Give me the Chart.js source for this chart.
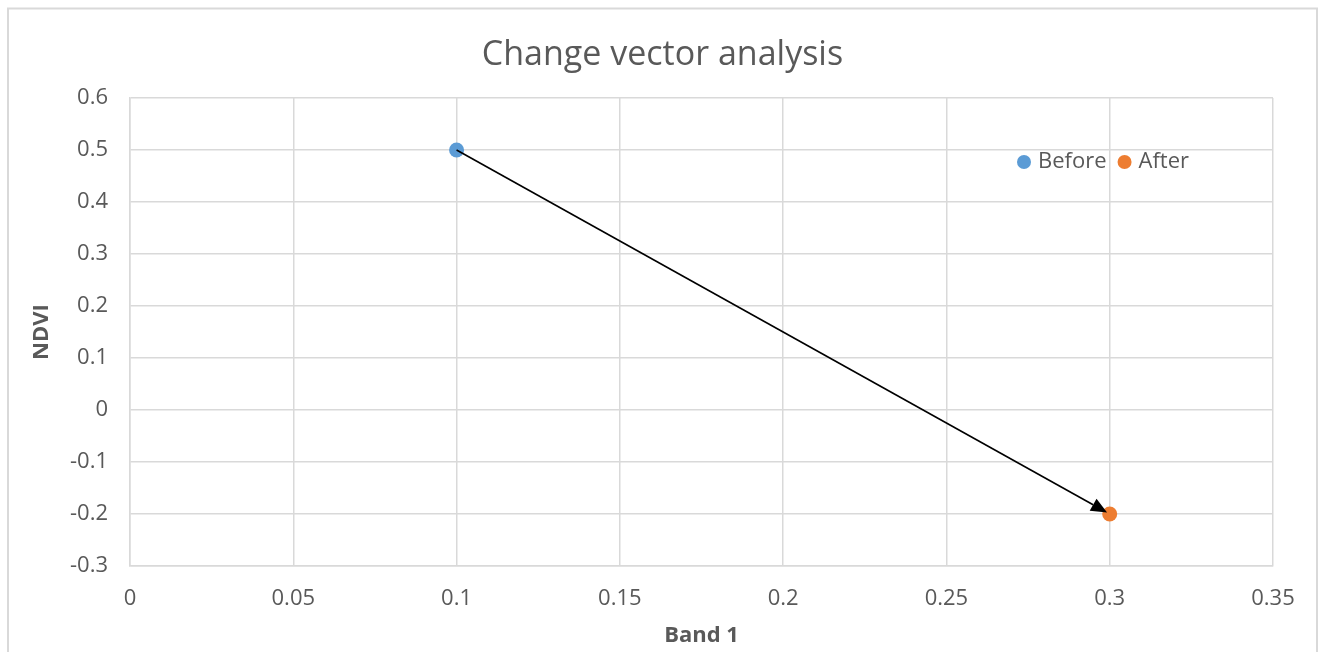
<!DOCTYPE html>
<html>
<head>
<meta charset="utf-8">
<title>Change vector analysis</title>
<script src="https://cdn.jsdelivr.net/npm/chart.js@4.4.1/dist/chart.umd.min.js"></script>
<style>
    html, body { margin: 0; padding: 0; background: #ffffff; }
    #wrap { position: relative; width: 1318px; height: 652px; }
</style>
</head>
<body>
<div id="wrap"><canvas id="cvaChart" width="1318" height="652"></canvas></div>
<script>
// Данные
const seriesNames = ['Before', 'After'];
const seriesColors = ['#5b9bd5', '#ed7d31'];
const band1Values = [0.1, 0.3];
const ndviValues = [0.5, -0.2];
const xTicks = [0, 0.05, 0.1, 0.15, 0.2, 0.25, 0.3, 0.35];
const yTicks = [-0.3, -0.2, -0.1, 0, 0.1, 0.2, 0.3, 0.4, 0.5, 0.6];

const FONT = "'Open Sans', 'Noto Sans', sans-serif";
const TEXT = '#595959';
const GRID = '#d9d9d9';

const fmt = v => String(parseFloat(Number(v).toFixed(2)));

// Рамка вокруг всей диаграммы, заголовок центрируется по рамке
const framePlugin = {
    id: 'frame',
    afterLayout(chart) {
        const t = chart.titleBlock;
        if (t) {
            t.left = 8;
            t.right = 1317;
            t.width = 1309;
        }
    },
    beforeDraw(chart) {
        const ctx = chart.ctx;
        ctx.save();
        ctx.strokeStyle = GRID;
        ctx.lineWidth = 2;
        ctx.strokeRect(8, 8.5, 1309, 660);
        ctx.restore();
    }
};

// Стрелка от "Before" к "After"
const arrowPlugin = {
    id: 'arrow',
    afterDatasetsDraw(chart) {
        const xs = chart.scales.x, ys = chart.scales.y;
        const x0 = xs.getPixelForValue(band1Values[0]), y0 = ys.getPixelForValue(ndviValues[0]);
        const x1 = xs.getPixelForValue(band1Values[1]), y1 = ys.getPixelForValue(ndviValues[1]);
        const ang = Math.atan2(y1 - y0, x1 - x0);
        const tipX = x1 - Math.cos(ang) * 3, tipY = y1 - Math.sin(ang) * 3;
        const len = 16, half = 7;
        const bx = tipX - Math.cos(ang) * len, by = tipY - Math.sin(ang) * len;
        const ctx = chart.ctx;
        ctx.save();
        ctx.strokeStyle = '#000000';
        ctx.lineWidth = 1.6;
        ctx.beginPath();
        ctx.moveTo(x0, y0);
        ctx.lineTo(bx, by);
        ctx.stroke();
        ctx.fillStyle = '#000000';
        ctx.beginPath();
        ctx.moveTo(tipX, tipY);
        ctx.lineTo(bx + Math.sin(ang) * half, by - Math.cos(ang) * half);
        ctx.lineTo(bx - Math.sin(ang) * half, by + Math.cos(ang) * half);
        ctx.closePath();
        ctx.fill();
        ctx.restore();
    }
};

// Легенда внутри области построения
const legendPlugin = {
    id: 'innerLegend',
    afterDraw(chart) {
        const ctx = chart.ctx;
        ctx.save();
        ctx.font = '22px ' + FONT;
        ctx.textBaseline = 'middle';
        let x = 1017;
        const y = 162;
        chart.data.datasets.forEach(ds => {
            ctx.fillStyle = ds.backgroundColor;
            ctx.beginPath();
            ctx.arc(x + 7, y, 7, 0, Math.PI * 2);
            ctx.fill();
            ctx.fillStyle = TEXT;
            ctx.fillText(ds.label, x + 21, y);
            x += 21 + ctx.measureText(ds.label).width + 11;
        });
        ctx.restore();
    }
};

const datasets = seriesNames.map((name, i) => ({
    label: name,
    data: [{ x: band1Values[i], y: ndviValues[i] }],
    backgroundColor: seriesColors[i],
    borderColor: seriesColors[i],
    pointRadius: 7.5,
    pointBorderWidth: 0
}));

new Chart(document.getElementById('cvaChart'), {
    type: 'scatter',
    data: { datasets },
    plugins: [framePlugin, arrowPlugin, legendPlugin],
    options: {
        responsive: false,
        animation: false,
        layout: { padding: { left: 8, right: 45, top: 0, bottom: 0 } },
        plugins: {
            legend: { display: false },
            tooltip: { enabled: false },
            title: {
                display: true,
                text: 'Change vector analysis',
                color: TEXT,
                font: { family: FONT, size: 34, weight: 'normal' },
                padding: { top: 35, bottom: 22.2 }
            }
        },
        scales: {
            x: {
                type: 'linear',
                min: 0,
                max: 0.35,
                afterBuildTicks: s => { s.ticks = xTicks.map(v => ({ value: v })); },
                afterFit: s => { s.height = 86; },
                ticks: { color: TEXT, font: { family: FONT, size: 22 }, padding: 20, callback: fmt, maxRotation: 0 },
                grid: { color: GRID, lineWidth: 1.5, drawTicks: false },
                border: { color: GRID, width: 1.5 },
                title: {
                    display: true,
                    text: 'Band 1',
                    color: TEXT,
                    font: { family: FONT, size: 22, weight: 'bold' },
                    padding: { top: 4, bottom: 3 }
                }
            },
            y: {
                type: 'linear',
                min: -0.3,
                max: 0.6,
                afterBuildTicks: s => { s.ticks = yTicks.map(v => ({ value: v })); },
                afterFit: s => { s.width = 122; },
                ticks: { color: TEXT, font: { family: FONT, size: 22 }, padding: 22, callback: fmt },
                grid: { color: GRID, lineWidth: 1.5, drawTicks: false },
                border: { color: GRID, width: 1.5 },
                title: {
                    display: true,
                    text: 'NDVI',
                    color: TEXT,
                    font: { family: FONT, size: 22, weight: 'bold' },
                    padding: { top: 21, bottom: 0 }
                }
            }
        }
    }
});
</script>
</body>
</html>
